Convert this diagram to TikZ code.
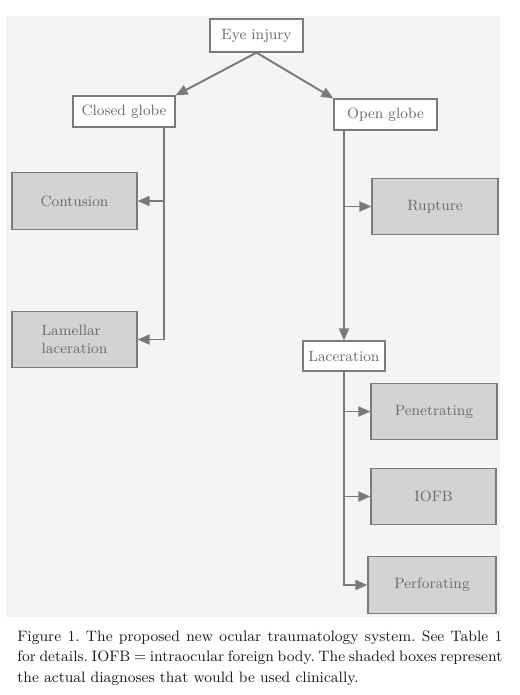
\documentclass[tikz,border=0pt]{standalone}
\usepackage{tikz}
\usetikzlibrary{arrows.meta,positioning,calc}
\usepackage{xcolor}

\definecolor{panelgray}{HTML}{F4F4F4}
\definecolor{shadegray}{HTML}{D3D3D3}
\definecolor{linegray}{HTML}{7A7A7A}
\definecolor{textgray}{HTML}{6A6A6A}

\begin{document}
\begin{tikzpicture}[
plain/.style={
    draw=linegray,
    fill=white,
    line width=0.7pt,
    rectangle,
    text=textgray,
    inner sep=0pt
},
diag/.style={
    plain,
    fill=shadegray,
    minimum width=2.5cm,
    minimum height=1.13cm
},
link/.style={
    draw=linegray,
    line width=1.1pt,
    -{Triangle[length=2.4mm,width=2mm]}
},
every node/.style={font=\fontsize{8.5}{10.5}\selectfont}
]

\useasboundingbox (0,0) rectangle (10.38,-13.9);
\fill[panelgray] (0.12,-0.32) rectangle (10.0,-12.34);

\node[plain, minimum width=1.86cm, minimum height=0.66cm] (eye) at (5.13,-0.71) {Eye injury};

\node[plain, minimum width=2.04cm, minimum height=0.62cm] (closed) at (2.48,-2.23) {Closed globe};
\node[plain, minimum width=2.06cm, minimum height=0.62cm] (open) at (7.71,-2.29) {Open globe};

\node[diag] (contusion) at (1.49,-4.02) {Contusion};
\node[diag, align=left] (lamellar) at (1.49,-6.79) {Lamellar\\laceration};

\node[diag, minimum width=2.52cm] (rupture) at (8.70,-4.13) {Rupture};
\node[plain, minimum width=1.64cm, minimum height=0.6cm] (laceration) at (6.88,-7.12) {Laceration};

\node[diag, minimum width=2.52cm] (penetrating) at (8.68,-8.23) {Penetrating};
\node[diag] (iofb) at (8.67,-9.93) {IOFB};
\node[diag, minimum width=2.56cm] (perforating) at (8.64,-11.70) {Perforating};

% Eye injury -- globes
\draw[link] (eye.south) -- (closed.north east);
\draw[link] (eye.south) -- (open.north west);

% Closed globe branch
\coordinate (clbranch) at ($(closed.south)+(0.8,0)$);
\draw[link] (clbranch) |- (lamellar.east);
\draw[link] (contusion.east -| clbranch) -- (contusion.east);

% Open globe branch
\draw[link] (open.south -| laceration.north) -- (laceration.north);
\draw[link] (rupture.west -| laceration.north) -- (rupture.west);

% Laceration branch
\draw[link] (laceration.south) |- (perforating.west);
\draw[link] (penetrating.west -| laceration.south) -- (penetrating.west);
\draw[link] (iofb.west -| laceration.south) -- (iofb.west);

\node[anchor=north west, text width=9.7cm, align=justify, text=black!90,
      font=\fontsize{8.6}{11.8}\selectfont\frenchspacing, inner sep=0pt] (caption) at (0.34,-12.6)
{Figure 1. The proposed new ocular traumatology system. See Table 1\linebreak for details. IOFB = intraocular foreign body. The shaded boxes represent\linebreak the actual diagnoses that would be used clinically.};

\end{tikzpicture}
\end{document}
